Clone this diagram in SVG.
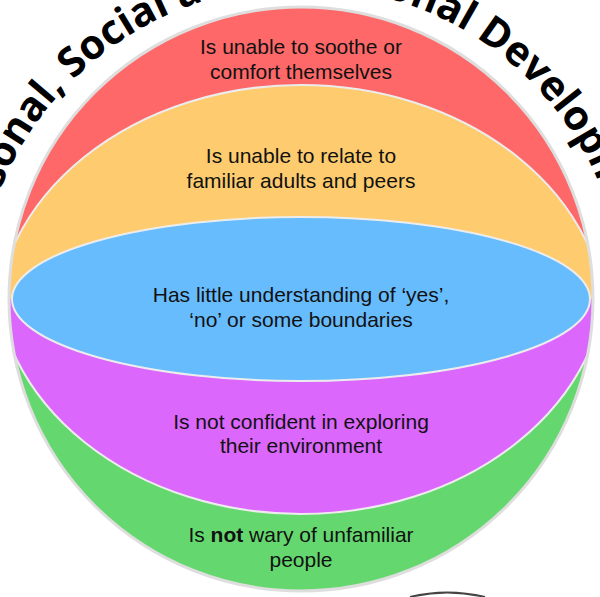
<svg xmlns="http://www.w3.org/2000/svg" xmlns:xlink="http://www.w3.org/1999/xlink" width="600" height="597" viewBox="0 0 600 597">
<style>
.lbl{font-family:"Liberation Sans",Arial,sans-serif;font-size:21px;fill:#111;text-anchor:middle}
.title{font-family:"Open Sans",sans-serif;font-weight:700;font-size:41px;fill:#000}
.seam{stroke:#ececec;stroke-width:2}
</style>
<defs>
<clipPath id="ball"><circle cx="301" cy="299" r="292"/></clipPath>
<clipPath id="upper"><rect x="0" y="0" width="600" height="299"/></clipPath>
<clipPath id="lower"><rect x="0" y="299" width="600" height="300"/></clipPath>
<path id="arc" d="M -3.5 420.8 A 324 324 0 1 1 605.5 420.8" fill="none"/>
</defs>
<rect width="600" height="597" fill="#fff"/>
<g id="title">
<text class="title"><textPath xlink:href="#arc" href="#arc" startOffset="168">Personal, Social and Emotional Development</textPath></text>
</g>
<path d="M 410 597 Q 447 588 485 597" fill="none" stroke="#444" stroke-width="2"/>
<g id="sphere" clip-path="url(#ball)">
<g id="band-red">
<path d="M 9 299 A 292 292 0 0 1 593 299 Z" fill="#FE6868"/>
<text class="lbl" x="301" y="54">Is unable to soothe or</text>
<text class="lbl" x="301" y="79">comfort themselves</text>
</g>
<g id="band-green">
<path d="M 9 299 A 292 292 0 0 0 593 299 Z" fill="#64D86E"/>
<text class="lbl" x="301" y="542">Is <tspan font-weight="bold">not</tspan> wary of unfamiliar</text>
<text class="lbl" x="301" y="567">people</text>
</g>
<g id="band-orange" clip-path="url(#upper)">
<ellipse cx="301" cy="330" rx="306" ry="245" fill="#FECC6E" class="seam"/>
<text class="lbl" x="301" y="163">Is unable to relate to</text>
<text class="lbl" x="301" y="188">familiar adults and peers</text>
</g>
<g id="band-purple" clip-path="url(#lower)">
<ellipse cx="301" cy="269" rx="306" ry="245" fill="#DC67FD" class="seam"/>
<text class="lbl" x="301" y="429">Is not confident in exploring</text>
<text class="lbl" x="301" y="453">their environment</text>
</g>
<g id="band-blue">
<ellipse cx="301" cy="299" rx="289" ry="82" fill="#67BCFE" class="seam"/>
<text class="lbl" x="301" y="302">Has little understanding of ‘yes’,</text>
<text class="lbl" x="301" y="327">‘no’ or some boundaries</text>
</g>
</g>
<circle cx="301" cy="299" r="292" fill="none" stroke="#dedede" stroke-width="3"/>
</svg>
